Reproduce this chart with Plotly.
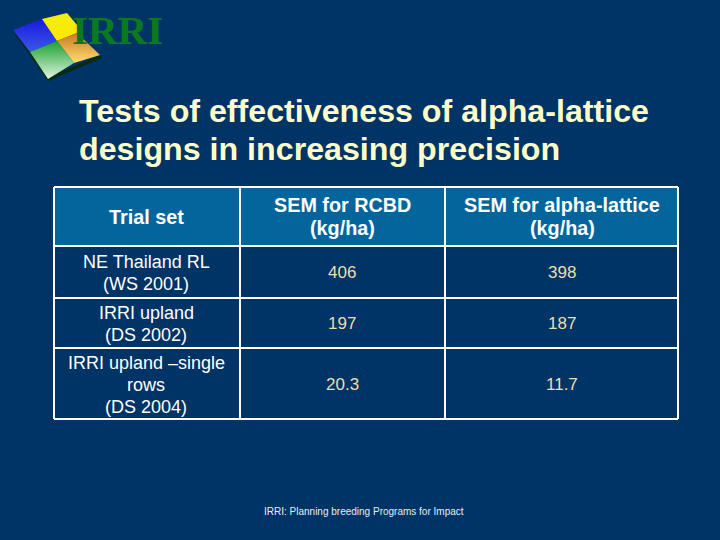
import plotly.graph_objects as go

title_lines = ["Tests of effectiveness of alpha-lattice", "designs in increasing precision"]
headers = [["Trial set"], ["SEM for RCBD", "(kg/ha)"], ["SEM for alpha-lattice", "(kg/ha)"]]
trial_sets = [["NE Thailand RL", "(WS 2001)"], ["IRRI upland", "(DS 2002)"], ["IRRI upland –single", "rows", "(DS 2004)"]]
sem_rcbd = ["406", "197", "20.3"]
sem_alpha = ["398", "187", "11.7"]
footer = "IRRI: Planning breeding Programs for Impact"

BG = "#003366"
HEAD = "#04659c"
CREAM = "#eadfae"
TITLE = "#ffffc8"
SANS = "Liberation Sans, Arial, sans-serif"

col_x = [54, 240, 445, 678]
row_y = [187, 246, 298, 348, 419]
# text centres differ a little from the cell centres in the slide
col_c = [146, 342, 562]
row_c = [216.5, 272.5, 323.5, 384.5]

fig = go.Figure()

# logo, gradient tiles
tiles = [
    ([13, 42, 57, 30, 13], [30, 19, 41, 52, 30], [[0, "#3a58e8"], [1, "#1a1ae0"]]),
    ([42, 67, 77, 77, 57, 42], [19, 13, 25, 33, 41, 19], [[0, "#ffe800"], [1, "#f2ee10"]]),
    ([57, 77, 100, 74, 57], [41, 33, 55, 63, 41], [[0, "#ffdc70"], [1, "#c87a20"]]),
    ([30, 57, 74, 48, 30], [52, 41, 63, 79, 52], [[0, "#e0f5e0"], [1, "#18a030"]]),
]
fig.add_trace(go.Scatter(x=[13, 48, 102, 100, 49, 13], y=[31, 81, 58, 55, 77, 30], mode="lines",
                         fill="toself", fillcolor="#0a2a10", line=dict(width=0), hoverinfo="skip"))
for tx, ty, cs in tiles:
    fig.add_trace(go.Scatter(x=tx, y=ty, mode="lines", fill="toself", line=dict(width=0),
                             fillgradient=dict(type="vertical", colorscale=cs), hoverinfo="skip"))

# table cells
shapes = [dict(type="rect", xref="x", yref="y", x0=col_x[0], x1=col_x[-1], y0=row_y[0], y1=row_y[1],
               fillcolor=HEAD, line=dict(width=0), layer="below")]
for x in col_x:
    shapes.append(dict(type="line", xref="x", yref="y", x0=x, x1=x, y0=row_y[0], y1=row_y[-1],
                       line=dict(color="white", width=2)))
for y in row_y:
    shapes.append(dict(type="line", xref="x", yref="y", x0=col_x[0], x1=col_x[-1], y0=y, y1=y,
                       line=dict(color="white", width=2)))


def label(x, y, text, size, color="white", font=SANS, **kw):
    fig.add_annotation(x=x, y=y, xref="x", yref="y", text=text, showarrow=False,
                       font=dict(family=font, size=size, color=color), **kw)


def stacked(x, y, lines, size, step, color="white", bold=False):
    top = y - step * (len(lines) - 1) / 2
    for n, line in enumerate(lines):
        label(x, top + n * step, "<b>" + line + "</b>" if bold else line, size, color)


label(70, 30, "<b>IRRI</b>", 41, "#0a7a1e", "Liberation Serif, serif", xanchor="left", yanchor="middle")
label(77, 111, "<b>" + title_lines[0] + "</b>", 32.2, TITLE, xanchor="left")
label(77, 149, "<b>" + title_lines[1] + "</b>", 32.2, TITLE, xanchor="left")

for c, lines in zip(col_c, headers):
    stacked(c, row_c[0], lines, 19.8, 23, bold=True)
for i in range(len(trial_sets)):
    stacked(col_c[0], row_c[i + 1], trial_sets[i], 18, 22)
    label(col_c[1], row_c[i + 1], sem_rcbd[i], 17, CREAM)
    label(col_c[2], row_c[i + 1], sem_alpha[i], 17, CREAM)

label(364, 511, footer, 10, "#e6edf2")

fig.update_layout(
    width=720, height=540, margin=dict(l=0, r=0, t=0, b=0), autosize=False,
    paper_bgcolor=BG, plot_bgcolor=BG, showlegend=False, shapes=shapes,
    xaxis=dict(range=[0, 720], visible=False, fixedrange=True),
    yaxis=dict(range=[540, 0], visible=False, fixedrange=True),
)

# the default page body has an 8px margin that pushes the figure off the window
fig.write_html("out.html", config=dict(displayModeBar=False),
               post_script="document.body.style.margin='0';document.body.style.overflow='hidden';")
